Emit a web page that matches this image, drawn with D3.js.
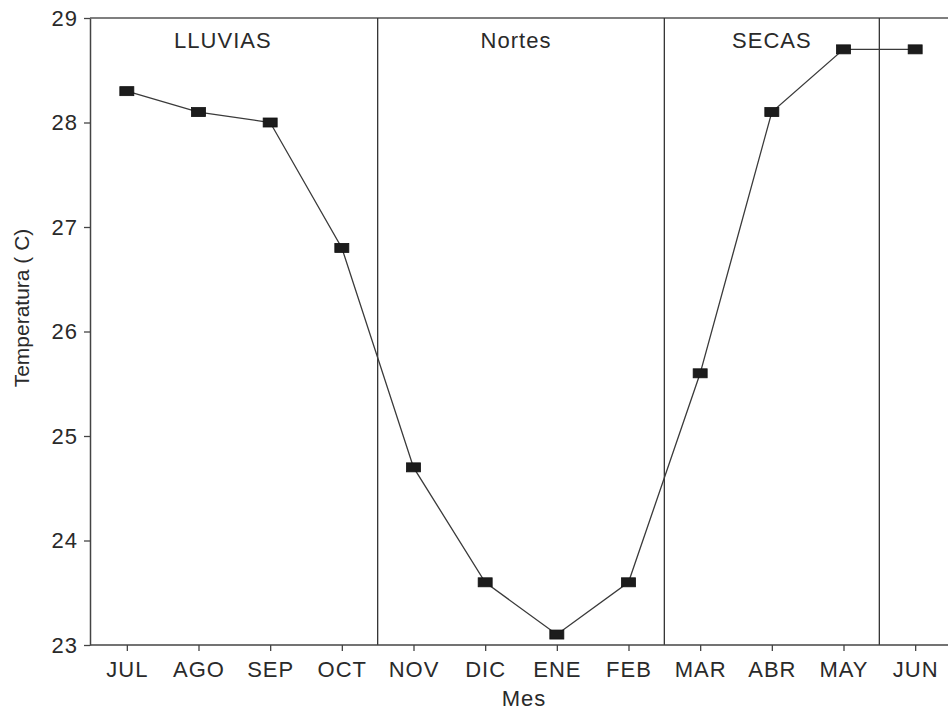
<!DOCTYPE html>
<html>
<head>
<meta charset="utf-8">
<script src="https://cdn.jsdelivr.net/npm/d3@7"></script>
<style>
  body { margin: 0; background: #fff; }
  svg text { font-family: "Liberation Sans", Arial, sans-serif; fill: #2a2a2a; }
</style>
</head>
<body>
<script>
// data
var meses = ["JUL", "AGO", "SEP", "OCT", "NOV", "DIC", "ENE", "FEB", "MAR", "ABR", "MAY", "JUN"];
var temperatura = [28.3, 28.1, 28.0, 26.8, 24.7, 23.6, 23.1, 23.6, 25.6, 28.1, 28.7, 28.7];
var yTicks = [23, 24, 25, 26, 27, 28, 29];
// season boundaries (in month index units) and label spots
var temporadas = ["LLUVIAS", "Nortes", "SECAS"];
var temporadaLabelAt = [1.34, 5.43, 9.0];
var limites = [3.5, 7.5, 10.5];

(function() {
    var W = 948, H = 711,
        left = 90, top = 18, bottom = 645;

    var svg = d3.select("body").append("svg")
        .attr("width", W).attr("height", H);

    var x = d3.scalePoint().domain(meses).range([91, 951]).padding(0.5);
    var xi = d3.scaleLinear().domain([0, 1]).range([x(meses[0]), x(meses[1])]);
    var y = d3.scaleLinear().domain([23, 29]).range([bottom, top]);

    // frame: top border
    svg.append("line")
        .attr("x1", left).attr("x2", W)
        .attr("y1", top).attr("y2", top)
        .attr("stroke", "#555").attr("stroke-width", 1.5);

    // season dividers
    svg.selectAll(".limite").data(limites).enter().append("line")
        .attr("class", "limite")
        .attr("x1", function(d) { return xi(d); })
        .attr("x2", function(d) { return xi(d); })
        .attr("y1", top).attr("y2", bottom)
        .attr("stroke", "#333").attr("stroke-width", 1.3);

    // season labels
    svg.selectAll(".temporada").data(temporadas).enter().append("text")
        .attr("class", "temporada")
        .attr("x", function(d, i) { return xi(temporadaLabelAt[i]); })
        .attr("y", 48)
        .attr("text-anchor", "middle")
        .attr("font-size", 22)
        .attr("letter-spacing", 1)
        .text(function(d) { return d; });

    // axes
    var gx = svg.append("g")
        .attr("transform", "translate(0," + bottom + ")")
        .call(d3.axisBottom(x).tickSize(6).tickSizeOuter(0).tickPadding(10));
    gx.select(".domain").attr("d", "M" + left + ",0H" + W);
    var gy = svg.append("g")
        .attr("transform", "translate(" + left + ",0)")
        .call(d3.axisLeft(y).tickValues(yTicks).tickFormat(d3.format("d"))
            .tickSize(6).tickSizeOuter(0).tickPadding(6));

    [gx, gy].forEach(function(g) {
        g.select(".domain").attr("stroke", "#444").attr("stroke-width", 1.5);
        g.selectAll(".tick line").attr("stroke", "#444").attr("stroke-width", 1.3);
        g.selectAll(".tick text")
            .attr("font-size", 22)
            .attr("letter-spacing", 1)
            .attr("fill", "#2a2a2a")
            .style("font-family", "'Liberation Sans', Arial, sans-serif");
    });

    // axis titles
    svg.append("text")
        .attr("x", 524).attr("y", 706)
        .attr("text-anchor", "middle")
        .attr("font-size", 22)
        .attr("letter-spacing", 1)
        .text("Mes");
    svg.append("text")
        .attr("transform", "translate(29,308) rotate(-90)")
        .attr("text-anchor", "middle")
        .attr("font-size", 21)
        .text("Temperatura ( C)");

    // line + markers
    var line = d3.line()
        .x(function(d, i) { return x(meses[i]); })
        .y(function(d) { return y(d); });

    svg.append("path")
        .datum(temperatura)
        .attr("d", line)
        .attr("fill", "none")
        .attr("stroke", "#3a3a3a")
        .attr("stroke-width", 1.3);

    svg.selectAll(".marca").data(temperatura).enter().append("rect")
        .attr("class", "marca")
        .attr("x", function(d, i) { return x(meses[i]) - 7; })
        .attr("y", function(d) { return y(d) - 4.5; })
        .attr("width", 14).attr("height", 9)
        .attr("fill", "#1c1c1c")
        .attr("stroke", "#111").attr("stroke-width", 0.8);
})();
</script>
</body>
</html>
